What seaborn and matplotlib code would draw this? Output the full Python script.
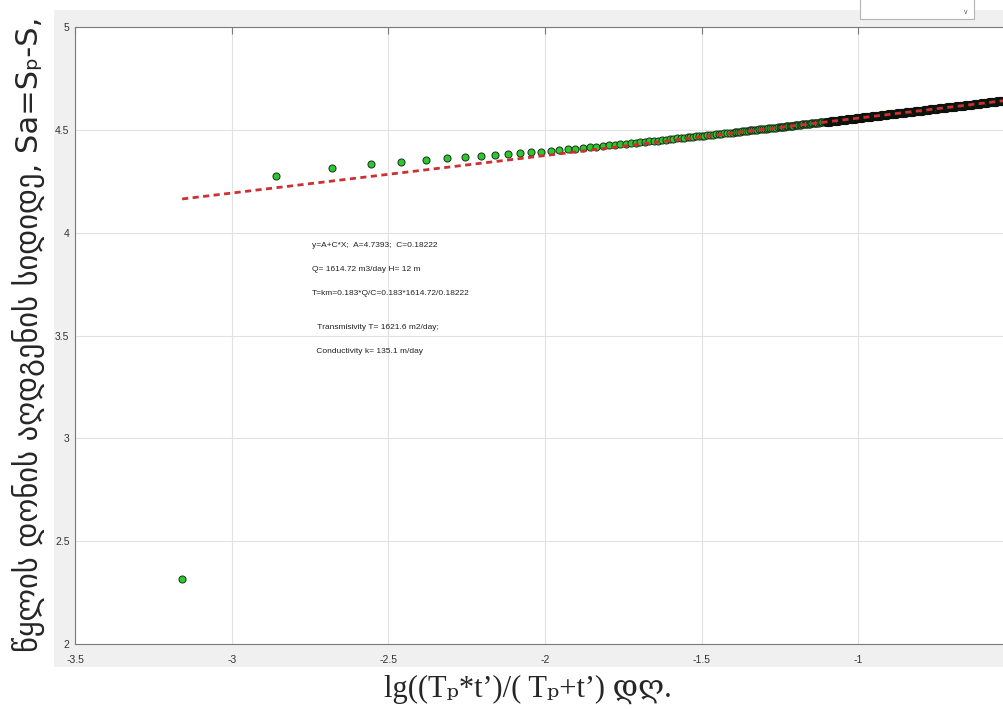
import pandas as pd
import seaborn as sns
import matplotlib.pyplot as plt
from matplotlib.patches import Rectangle

# first readings, one dot each (x = lg((Tp*t')/(Tp+t')), y = Sa)
x_early = [-3.158, -2.857, -2.681, -2.556, -2.459, -2.380, -2.313, -2.255, -2.204, -2.158,
           -2.117, -2.079, -2.044, -2.012, -1.982, -1.954, -1.928, -1.903, -1.880, -1.857,
           -1.836, -1.816, -1.797, -1.778, -1.760, -1.743, -1.727, -1.711, -1.696, -1.681,
           -1.667, -1.653, -1.640, -1.627, -1.614, -1.602, -1.590, -1.579, -1.567, -1.556]
y_early = [2.316, 4.277, 4.316, 4.334, 4.344, 4.353, 4.361, 4.369, 4.373, 4.378,
           4.384, 4.389, 4.391, 4.394, 4.399, 4.402, 4.405, 4.407, 4.410, 4.415,
           4.418, 4.421, 4.424, 4.427, 4.430, 4.432, 4.435, 4.437, 4.439, 4.442,
           4.444, 4.446, 4.448, 4.450, 4.452, 4.454, 4.456, 4.458, 4.460, 4.462]

# readings getting closer together
x_mid = [-1.545, -1.536, -1.527, -1.518, -1.509, -1.500, -1.491, -1.482, -1.473, -1.464,
         -1.455, -1.446, -1.437, -1.428, -1.419, -1.410, -1.401,
         -1.395, -1.389, -1.383, -1.377, -1.371, -1.365, -1.359, -1.353, -1.347, -1.341,
         -1.335, -1.329, -1.323, -1.317, -1.311, -1.305, -1.299, -1.293, -1.287, -1.281,
         -1.275, -1.269, -1.263, -1.257, -1.251,
         -1.247, -1.243, -1.239, -1.235, -1.231, -1.227, -1.223, -1.219, -1.215, -1.211,
         -1.207, -1.203, -1.199, -1.195, -1.191, -1.187, -1.183, -1.179, -1.175, -1.171,
         -1.167, -1.163, -1.159, -1.155, -1.151, -1.147, -1.143, -1.139, -1.135, -1.131,
         -1.127, -1.123, -1.119, -1.115, -1.111, -1.107, -1.103]
y_mid = [4.463, 4.465, 4.466, 4.468, 4.469, 4.471, 4.472, 4.474, 4.475, 4.477,
         4.478, 4.480, 4.481, 4.483, 4.484, 4.486, 4.487,
         4.488, 4.489, 4.490, 4.491, 4.492, 4.493, 4.494, 4.495, 4.497, 4.498,
         4.499, 4.500, 4.501, 4.502, 4.503, 4.504, 4.505, 4.506, 4.507, 4.508,
         4.509, 4.510, 4.511, 4.512, 4.513,
         4.514, 4.515, 4.515, 4.516, 4.517, 4.518, 4.518, 4.519, 4.520, 4.520,
         4.521, 4.522, 4.523, 4.523, 4.524, 4.525, 4.525, 4.526, 4.527, 4.527,
         4.528, 4.529, 4.530, 4.530, 4.531, 4.532, 4.532, 4.533, 4.534, 4.534,
         4.535, 4.536, 4.537, 4.537, 4.538, 4.539, 4.539]

# late readings, so dense the dots merge into a dark band
x_tail = [-1.100, -1.096, -1.092, -1.088, -1.084, -1.080, -1.076, -1.072, -1.068, -1.064,
          -1.060, -1.056, -1.052, -1.048, -1.044, -1.040, -1.036, -1.032, -1.028, -1.024,
          -1.020, -1.016, -1.012, -1.008, -1.004, -1.000, -0.996, -0.992, -0.988, -0.984,
          -0.980, -0.976, -0.972, -0.968, -0.964, -0.960, -0.956, -0.952, -0.948, -0.944,
          -0.940, -0.936, -0.932, -0.928, -0.924, -0.920, -0.916, -0.912, -0.908, -0.904,
          -0.900, -0.896, -0.892, -0.888, -0.884, -0.880, -0.876, -0.872, -0.868, -0.864,
          -0.860, -0.856, -0.852, -0.848, -0.844, -0.840, -0.836, -0.832, -0.828, -0.824,
          -0.820, -0.816, -0.812, -0.808, -0.804, -0.800, -0.796, -0.792, -0.788, -0.784,
          -0.780, -0.776, -0.772, -0.768, -0.764, -0.760, -0.756, -0.752, -0.748, -0.744,
          -0.740, -0.736, -0.732, -0.728, -0.724, -0.720, -0.716, -0.712, -0.708, -0.704,
          -0.700, -0.696, -0.692, -0.688, -0.684, -0.680, -0.676, -0.672, -0.668, -0.664,
          -0.660, -0.656, -0.652, -0.648, -0.644, -0.640, -0.636, -0.632, -0.628, -0.624,
          -0.620, -0.616, -0.612, -0.608, -0.604, -0.600, -0.596, -0.592, -0.588, -0.584,
          -0.580, -0.576, -0.572, -0.568, -0.564, -0.560, -0.556, -0.552, -0.548, -0.544,
          -0.540, -0.536, -0.532, -0.528, -0.524, -0.520]
y_tail = [4.539, 4.540, 4.540, 4.541, 4.542, 4.543, 4.543, 4.544, 4.545, 4.545,
          4.546, 4.547, 4.548, 4.548, 4.549, 4.550, 4.551, 4.551, 4.552, 4.553,
          4.553, 4.554, 4.555, 4.556, 4.556, 4.557, 4.558, 4.559, 4.559, 4.560,
          4.561, 4.561, 4.562, 4.563, 4.564, 4.564, 4.565, 4.566, 4.567, 4.567,
          4.568, 4.569, 4.569, 4.570, 4.571, 4.572, 4.572, 4.573, 4.574, 4.575,
          4.575, 4.576, 4.577, 4.577, 4.578, 4.579, 4.580, 4.580, 4.581, 4.582,
          4.583, 4.583, 4.584, 4.585, 4.586, 4.586, 4.587, 4.588, 4.588, 4.589,
          4.590, 4.591, 4.591, 4.592, 4.593, 4.594, 4.594, 4.595, 4.596, 4.596,
          4.597, 4.598, 4.599, 4.599, 4.600, 4.601, 4.602, 4.602, 4.603, 4.604,
          4.604, 4.605, 4.606, 4.607, 4.607, 4.608, 4.609, 4.610, 4.610, 4.611,
          4.612, 4.612, 4.613, 4.614, 4.615, 4.615, 4.616, 4.617, 4.618, 4.618,
          4.619, 4.620, 4.620, 4.621, 4.622, 4.623, 4.623, 4.624, 4.625, 4.626,
          4.626, 4.627, 4.628, 4.629, 4.629, 4.630, 4.631, 4.631, 4.632, 4.633,
          4.634, 4.634, 4.635, 4.636, 4.637, 4.637, 4.638, 4.639, 4.639, 4.640,
          4.641, 4.642, 4.642, 4.643, 4.644, 4.645]

# fitted straight line y = A + C*X
A = 4.7393
C = 0.18222

x_ticks = [-3.5, -3, -2.5, -2, -1.5, -1]
y_ticks = [2, 2.5, 3, 3.5, 4, 4.5, 5]

notes = ["y=A+C*X;  A=4.7393;  C=0.18222",
         "Q= 1614.72 m3/day H= 12 m",
         "T=km=0.183*Q/C=0.183*1614.72/0.18222",
         " Transmisivity T= 1621.6 m2/day;",
         " Conductivity k= 135.1 m/day"]
note_pos = [(-2.744, 3.940), (-2.744, 3.819), (-2.744, 3.702), (-2.735, 3.538), (-2.738, 3.420)]

ylabel = "წყლის დონის აღდგენის სიდიდე, Sa=Sₚ-S,"
xlabel = "lg((Tₚ*t’)/( Tₚ+t’) დღ."

sns.set_style('white')
plt.rcParams['font.family'] = ['Liberation Sans', 'DejaVu Sans']
plt.rcParams['axes.unicode_minus'] = False

W, H = 1004, 709
fig = plt.figure(figsize=(W / 100, H / 100), dpi=100)

# grey matlab window behind the axes
fig.add_artist(Rectangle((54 / W, 1 - 667 / H), 1, 657 / H, transform=fig.transFigure,
                         facecolor='#f0f0f0', edgecolor='none', zorder=0))
fig.add_artist(Rectangle((860 / W, 1 - 19 / H), 114 / W, 21 / H, transform=fig.transFigure,
                         facecolor='white', edgecolor='#b4b4b4', lw=0.8, zorder=1))
fig.text(966 / W, 1 - 13 / H, 'v', fontsize=5, color='#555555', ha='center', va='center')

ax = fig.add_axes([75 / W, 1 - 644 / H, 940 / W, 617 / H])
ax.set_facecolor('white')

df = pd.DataFrame({'x': x_early + x_mid, 'y': y_early + y_mid})
df_tail = pd.DataFrame({'x': x_tail, 'y': y_tail})
sns.scatterplot(data=df, x='x', y='y', ax=ax, s=26, color='#2dc82d',
                edgecolor='#1a2e1a', linewidth=0.7, legend=False, zorder=3)
# the real tail is several times denser; a heavier rim gives the same dark band
sns.scatterplot(data=df_tail, x='x', y='y', ax=ax, s=26, color='#2dc82d',
                edgecolor='#0c120c', linewidth=1.5, legend=False, zorder=3)

fit_x = [min(x_early), max(x_tail)]
fit_y = [A + C * v for v in fit_x]
sns.lineplot(x=fit_x, y=fit_y, ax=ax, color='#cc3030', lw=2,
             linestyle=(0, (2.2, 1.6)), zorder=4)

ax.set_xlim(-3.5, -0.5)
ax.set_ylim(2, 5)
ax.set_xticks(x_ticks)
ax.set_xticklabels([f'{t:g}' for t in x_ticks])
ax.set_yticks(y_ticks)
ax.set_yticklabels([f'{t:g}' for t in y_ticks])
ax.set_xlabel('')
ax.set_ylabel('')
ax.grid(True, color='#e2e2e2', lw=0.8)
ax.set_axisbelow(True)
for s in ax.spines.values():
    s.set_color('#7a7a7a')
    s.set_linewidth(0.8)
ax.tick_params(direction='in', length=5, width=0.8, color='#7a7a7a',
               labelsize=7.5, labelcolor='#333333', top=True, right=True)
ax.tick_params(axis='x', pad=8)
ax.tick_params(axis='y', pad=4)

for txt, (tx, ty) in zip(notes, note_pos):
    ax.text(tx, ty, txt, fontsize=6, color='#222222', va='center')

fig.text(28 / W, 1 - 334 / H, ylabel, rotation=90, ha='center', va='center',
         fontsize=22, family=['DejaVu Sans'])
fig.text(528 / W, 1 - 689 / H, xlabel, ha='center', va='center', fontsize=22,
         family=['Liberation Serif', 'DejaVu Serif', 'DejaVu Sans'])

fig.savefig('out.png', dpi=100)
